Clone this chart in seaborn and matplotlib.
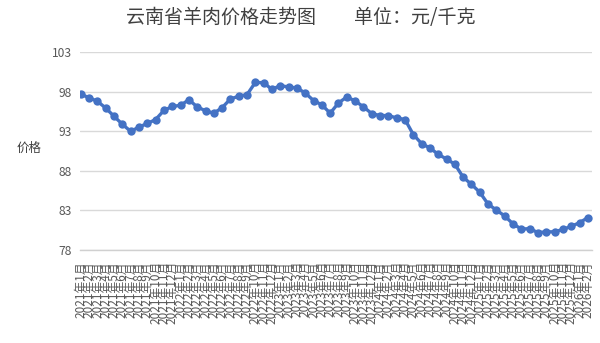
import matplotlib
matplotlib.use("Agg")
import matplotlib.pyplot as plt
import seaborn as sns
import pandas as pd

sns.set_theme(style="white")
plt.rcParams['font.family'] = ['Noto Sans CJK SC', 'DejaVu Sans']

months = [f"{y}年{m}月" for y in range(2021, 2027) for m in range(1, 13)][:62]
prices = [97.7, 97.25, 96.8, 95.95, 94.9, 93.9, 93.0, 93.55, 94.0, 94.5,
          95.65, 96.15, 96.3, 97.0, 96.1, 95.6, 95.3, 96.0, 97.1, 97.45,
          97.65, 99.2, 99.15, 98.3, 98.8, 98.6, 98.5, 97.85, 96.9, 96.35,
          95.3, 96.6, 97.35, 96.85, 96.1, 95.25, 95.0, 95.0, 94.7, 94.5,
          92.6, 91.45, 90.9, 90.1, 89.5, 88.85, 87.2, 86.3, 85.3, 83.8,
          83.05, 82.3, 81.3, 80.65, 80.7, 80.2, 80.3, 80.3, 80.6, 81.0,
          81.45, 82.1]
yticks = [78, 83, 88, 93, 98, 103]

df = pd.DataFrame({"idx": range(len(months)), "月份": months, "价格": prices})

fig = plt.figure(figsize=(6, 3.43), dpi=100)
ax = fig.add_axes([80/600, 1-250/343, 512/600, (250-52.3)/343])

sns.lineplot(data=df, x="idx", y="价格", ax=ax, color="#4472C4", linewidth=2.4,
             marker="o", markersize=6, markeredgewidth=0, zorder=3)

ax.set_xlim(-0.1, 61.5)
ax.set_ylim(78, 103)
ax.set_yticks(yticks)
ax.set_yticklabels([str(v) for v in yticks], fontsize=8.7, color="#595959")
ax.set_xticks(range(len(months)))
ax.set_xticklabels(months, rotation=90, fontsize=8.5, color="#595959")
ax.tick_params(axis="both", length=0, pad=6)
ax.tick_params(axis="x", pad=8)
ax.yaxis.grid(True, color="#d9d9d9", linewidth=1)
ax.xaxis.grid(False)
for s in ["left", "right", "top"]:
    ax.spines[s].set_visible(False)
ax.spines["bottom"].set_color("#d0d0d0")
ax.spines["bottom"].set_linewidth(1)
ax.set_xlabel("")
ax.set_ylabel("")

fig.text(301/600, 1-18/343, "云南省羊肉价格走势图\u3000\u3000单位：元/千克",
         ha="center", va="center", fontsize=13.7, color="#404040")
fig.text(16.7/600, 1-148.3/343, "价格", ha="left", va="center",
         fontsize=9, color="#404040")

fig.savefig("out.png", dpi=100)
